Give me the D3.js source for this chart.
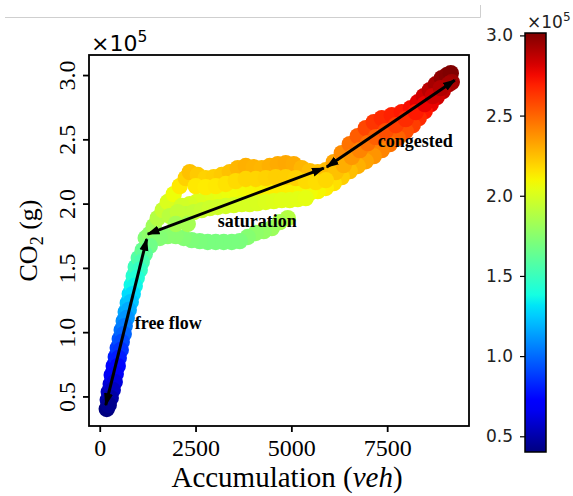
<!DOCTYPE html>
<html>
<head>
<meta charset="utf-8">
<script src="https://cdn.jsdelivr.net/npm/d3@7"></script>
<style>
  html, body { margin: 0; padding: 0; background: #fff; }
  svg { display: block; }
</style>
</head>
<body>
<script>
// Network trajectory samples: accumulation (veh) vs. total CO2 emission (g)
const accumulation = [
  183, 209, 235, 287, 313, 365, 418, 470, 522, 574, 626, 678, 731, 783, 835, 887, 939, 1018, 1122, 1200,
  1305, 1409, 1514, 1644, 1775, 1931, 2088, 2244, 2349,
  2557, 2766, 2975, 3184, 3392, 3601, 3810, 4019, 4228, 4436, 4645, 4854, 5063, 5271, 5480, 5689, 5898,
  6106, 6315, 6524, 6733, 6942, 7150, 7359, 7620, 7881, 8116, 8299, 8455, 8612, 8768, 8925, 9055, 9160,
  9186, 9108, 8951, 8794, 8638, 8481, 8325, 8168, 7985, 7777, 7568, 7359, 7150, 6942, 6733, 6524, 6315, 6106, 5898,
  6159, 6367, 6576, 6785, 6994, 7203, 7463, 7724, 7985, 8246, 8481, 8690, 8899,
  5689, 5480, 5271, 5063, 4854, 4645, 4436, 4228, 4019, 3810, 3601, 3392, 3184, 2975, 2766, 2557, 2349, 2140,
  2505, 2766, 3027, 3288, 3549, 3810, 4071, 4332, 4593, 4854, 5115, 5376, 5637, 5898,
  2244, 2453, 2662, 2871, 3079, 3288, 3497, 3706, 3914, 4123, 4332, 4541, 4749, 4958, 5167, 5376,
  4906, 4697, 4489, 4280, 4071, 3862, 3653, 3445, 3236, 3027, 2818, 2610, 2401, 2192, 1983, 1775, 1566,
  1827, 2035, 1983, 2296,
  1305, 1174, 1096, 1044, 966, 913, 861, 809, 757, 705, 652, 626, 574, 548, 496, 470, 418, 391, 339, 287, 235
];
const co2 = [
  40200, 47200, 53400, 59600, 66600, 73600, 80600, 87600, 94600, 101600, 108600, 115600, 122600, 129600, 136600, 143600, 150600, 157600, 163800, 173200,
  176300, 182500, 188700, 194900, 201200, 207400, 213600, 219800, 224500,
  222200, 219800, 220600, 222200, 224500, 227600, 229200, 228400, 227600, 229200, 230700, 231500, 230700, 227600, 225300, 224500, 226000,
  232300, 239300, 246300, 252500, 258700, 263400, 266500, 268800, 271200, 274300, 278900, 283600, 288300, 292900, 297600, 299900, 301500,
  294500, 292900, 287500, 282800, 277400, 271900, 266500, 261000, 256400, 250900, 246300, 241600, 236900, 233000, 229200, 225300, 220600, 215900, 212100,
  224500, 229900, 236200, 241600, 247000, 251700, 256400, 261000, 265700, 271200, 277400, 283600, 289800,
  209700, 208200, 208200, 209700, 211300, 212100, 212100, 211300, 210500, 209700, 208900, 208200, 206600, 205100, 203500, 201900, 199600, 198100,
  213600, 212800, 213600, 215200, 217500, 219100, 219100, 219800, 220600, 220600, 219800, 217500, 216700, 218300,
  191800, 193400, 194900, 196500, 197300, 198100, 198800, 199600, 199600, 200400, 201200, 201900, 202700, 202700, 203500, 204300,
  188700, 185600, 180900, 178600, 177100, 174000, 170800, 170100, 170100, 170100, 170100, 170800, 171600, 173200, 174700, 174700, 173200,
  190300, 193400, 184100, 184100,
  167000, 160700, 154500, 148300, 142100, 135900, 129600, 123400, 117200, 111000, 104700, 98500, 92300, 86100, 79900, 73600, 67400, 61200, 55000, 48800, 43300
];

const xTickValues = [0, 2500, 5000, 7500];
const yTickValues = [50000, 100000, 150000, 200000, 250000, 300000];
const colorTickValues = [50000, 100000, 150000, 200000, 250000, 300000];

// Traffic regimes: double-headed arrows and their labels
const phaseLabels = ["free flow", "saturation", "congested"];
const phaseLabelX = [913, 3079, 7255];
const phaseLabelY = [102400, 181700, 243900];
const arrowStartX = [157, 1253, 5924];
const arrowStartY = [43300, 176300, 228400];
const arrowEndX = [1226, 5846, 9264];
const arrowEndY = [172400, 227600, 296000];

const W = 573, H = 496;
const plot = { left: 89, top: 55, right: 469, bottom: 426 };
const cbar = { left: 525, right: 546, top: 33, bottom: 452 };
const serif = "'Liberation Serif', 'Times New Roman', serif";
const sans = "'DejaVu Sans', sans-serif";
const scaleFactor = 1e5;

// matplotlib "jet" colormap
const jetR = d3.scaleLinear().domain([0, 0.35, 0.66, 0.89, 1]).range([0, 0, 1, 1, 0.5]).clamp(true);
const jetG = d3.scaleLinear().domain([0, 0.125, 0.375, 0.64, 0.91, 1]).range([0, 0, 1, 1, 0, 0]).clamp(true);
const jetB = d3.scaleLinear().domain([0, 0.11, 0.34, 0.65, 1]).range([0.5, 1, 1, 0, 0]).clamp(true);
const jet = t => d3.rgb(jetR(t) * 255, jetG(t) * 255, jetB(t) * 255).formatHex();

const cMin = d3.min(co2), cMax = d3.max(co2);
const norm = d3.scaleLinear().domain([cMin, cMax]).range([0, 1]).clamp(true);
const colorOf = v => jet(norm(v));

const x = d3.scaleLinear().domain([-280, 9635]).range([plot.left, plot.right]);
const y = d3.scaleLinear().domain([27000, 315600]).range([plot.bottom, plot.top]);
const cy = d3.scaleLinear().domain([cMin, cMax]).range([cbar.bottom, cbar.top]);

const svg = d3.select("body").append("svg")
  .attr("width", W).attr("height", H)
  .attr("viewBox", `0 0 ${W} ${H}`);

// thin page rule at the top
svg.append("path")
  .attr("d", "M5,17.5H480.5V5")
  .attr("fill", "none").attr("stroke", "#cfcfcf").attr("stroke-width", 1);

const defs = svg.append("defs");
defs.append("clipPath").attr("id", "plot-clip")
  .append("rect")
  .attr("x", plot.left).attr("y", plot.top)
  .attr("width", plot.right - plot.left).attr("height", plot.bottom - plot.top);

defs.append("marker")
  .attr("id", "head")
  .attr("viewBox", "0 0 10 10")
  .attr("refX", 9).attr("refY", 5)
  .attr("markerWidth", 13).attr("markerHeight", 13)
  .attr("markerUnits", "userSpaceOnUse")
  .attr("orient", "auto-start-reverse")
  .append("path")
  .attr("d", "M0,1.5L10,5L0,8.5Z")
  .attr("fill", "#000");

// scatter trajectory
const points = accumulation.map((a, i) => ({ a, c: co2[i] }));
svg.append("g").attr("clip-path", "url(#plot-clip)")
  .selectAll("circle")
  .data(points)
  .join("circle")
  .attr("cx", d => x(d.a))
  .attr("cy", d => y(d.c))
  .attr("r", 8.2)
  .attr("fill", d => colorOf(d.c));

// regime arrows
svg.append("g").selectAll("line")
  .data(arrowStartX.map((v, i) => i))
  .join("line")
  .attr("x1", i => x(arrowStartX[i])).attr("y1", i => y(arrowStartY[i]))
  .attr("x2", i => x(arrowEndX[i])).attr("y2", i => y(arrowEndY[i]))
  .attr("stroke", "#000").attr("stroke-width", 3)
  .attr("marker-start", "url(#head)")
  .attr("marker-end", "url(#head)");

// regime labels
svg.append("g").selectAll("text")
  .data(phaseLabels)
  .join("text")
  .attr("x", (d, i) => x(phaseLabelX[i]))
  .attr("y", (d, i) => y(phaseLabelY[i]))
  .attr("font-family", serif).attr("font-weight", "bold").attr("font-size", 18)
  .attr("fill", "#000")
  .text(d => d);

// frame
svg.append("rect")
  .attr("x", plot.left).attr("y", plot.top)
  .attr("width", plot.right - plot.left).attr("height", plot.bottom - plot.top)
  .attr("fill", "none").attr("stroke", "#000").attr("stroke-width", 1.8);

// x axis
const xAxis = svg.append("g")
  .attr("transform", `translate(0,${plot.bottom})`)
  .call(d3.axisBottom(x).tickValues(xTickValues).tickSize(6).tickPadding(7).tickFormat(d3.format("d")));
xAxis.select(".domain").remove();
xAxis.selectAll(".tick line").attr("stroke", "#000").attr("stroke-width", 1.8);
xAxis.selectAll(".tick text")
  .attr("font-family", serif).attr("font-size", 24).attr("fill", "#000");

// y axis, labels rotated
const yAxis = svg.append("g")
  .attr("transform", `translate(${plot.left},0)`)
  .call(d3.axisLeft(y).tickValues(yTickValues).tickSize(6).tickFormat(d => (d / scaleFactor).toFixed(1)));
yAxis.select(".domain").remove();
yAxis.selectAll(".tick line").attr("stroke", "#000").attr("stroke-width", 1.8);
yAxis.selectAll(".tick text")
  .attr("x", null).attr("dy", null)
  .attr("transform", "translate(-14,0) rotate(-90)")
  .attr("text-anchor", "middle")
  .attr("font-family", serif).attr("font-size", 24).attr("fill", "#000");

// offset text
const mult = svg.append("text")
  .attr("x", 91).attr("y", 51)
  .attr("font-family", sans).attr("font-size", 22).attr("fill", "#000");
mult.append("tspan").text("\u00d710");
mult.append("tspan").attr("dy", -9).attr("font-size", 15.5).text("5");

// axis titles
const xt = svg.append("text")
  .attr("x", 287).attr("y", 487)
  .attr("text-anchor", "middle")
  .attr("font-family", serif).attr("font-size", 29).attr("fill", "#000");
xt.append("tspan").text("Accumulation (");
xt.append("tspan").attr("font-style", "italic").text("veh");
xt.append("tspan").text(")");

const yt = svg.append("text")
  .attr("transform", `translate(37,${(plot.top + plot.bottom) / 2}) rotate(-90)`)
  .attr("text-anchor", "middle")
  .attr("font-family", serif).attr("font-size", 26).attr("fill", "#000");
yt.append("tspan").text("CO");
yt.append("tspan").attr("dy", 6).attr("font-size", 18).text("2");
yt.append("tspan").attr("dy", -6).text(" (g)");

// colorbar
const grad = defs.append("linearGradient")
  .attr("id", "jet-grad")
  .attr("x1", 0).attr("y1", 1).attr("x2", 0).attr("y2", 0);
d3.range(0, 41).forEach(i => {
  const t = i / 40;
  grad.append("stop").attr("offset", t).attr("stop-color", jet(t));
});
svg.append("rect")
  .attr("x", cbar.left).attr("y", cbar.top)
  .attr("width", cbar.right - cbar.left).attr("height", cbar.bottom - cbar.top)
  .attr("fill", "url(#jet-grad)")
  .attr("stroke", "#000").attr("stroke-width", 1.5);

const cAxis = svg.append("g")
  .attr("transform", `translate(${cbar.left},0)`)
  .call(d3.axisLeft(cy).tickValues(colorTickValues).tickSize(5).tickPadding(7).tickFormat(d => (d / scaleFactor).toFixed(1)));
cAxis.select(".domain").remove();
cAxis.selectAll(".tick line").attr("stroke", "#000").attr("stroke-width", 1.2);
cAxis.selectAll(".tick text")
  .attr("font-family", sans).attr("font-size", 17).attr("fill", "#222");

const cmult = svg.append("text")
  .attr("x", 527).attr("y", 28)
  .attr("font-family", sans).attr("font-size", 17).attr("fill", "#222");
cmult.append("tspan").text("\u00d710");
cmult.append("tspan").attr("dy", -7).attr("font-size", 12).text("5");
</script>
</body>
</html>
